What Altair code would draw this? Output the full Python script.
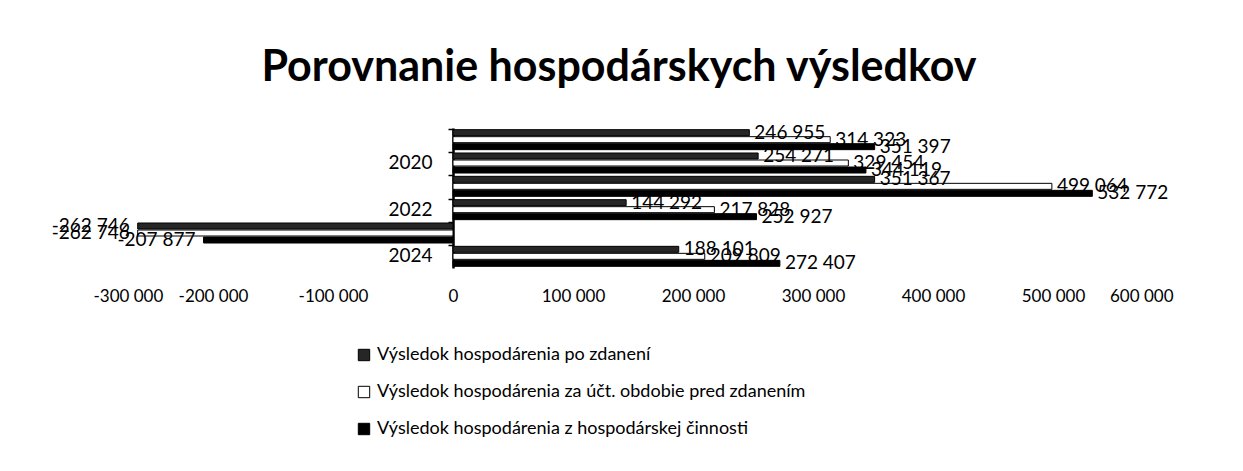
import altair as alt
import pandas as pd

years = ["2019", "2020", "2021", "2022", "2023", "2024"]
series = [
    "Výsledok hospodárenia po zdanení",
    "Výsledok hospodárenia za účt. obdobie pred zdanením",
    "Výsledok hospodárenia z hospodárskej činnosti",
]
po_zdaneni = [246955, 254271, 351367, 144292, -262746, 188101]
pred_zdanenim = [314323, 329454, 499064, 217828, -262746, 209809]
z_cinnosti = [351397, 344119, 532772, 252927, -207877, 272407]
x_ticks = [-300000, -200000, -100000, 0, 100000, 200000, 300000, 400000, 500000, 600000]

rows = []
for name, vals in zip(series, [po_zdaneni, pred_zdanenim, z_cinnosti]):
    for y, v in zip(years, vals):
        rows.append({"rok": y, "ukazovatel": name, "hodnota": v})
df = pd.DataFrame(rows)

XMIN, XMAX = -300000, 600000
PLOT_W, PLOT_H = 1080, 140
FONT = "Lato"

xscale = alt.Scale(domain=[XMIN, XMAX], nice=False, zero=False)
yscale = alt.Scale(domain=years, paddingInner=0.1, paddingOuter=0.05)
off_sort = series

base = alt.Chart(df)

bars = base.mark_bar(stroke="black", strokeWidth=1, size=6).encode(
    x=alt.X("hodnota:Q", scale=xscale,
            axis=alt.Axis(values=x_ticks, format=",d", domain=False, ticks=False, grid=False,
                          title=None, labelFontSize=17, labelFont=FONT, labelColor="black",
                          labelPadding=20)),
    y=alt.Y("rok:N", scale=yscale, sort=years,
            axis=alt.Axis(title=None, offset=-PLOT_W * (0 - XMIN) / (XMAX - XMIN),
                          labelExpr="toNumber(datum.value) % 2 == 0 ? datum.label : ''",
                          bandPosition=0, tickSize=5, tickColor="black", tickWidth=1.5,
                          domainColor="black", domainWidth=2.5, labelFontSize=19,
                          labelFont=FONT, labelColor="black", labelPadding=16, grid=False)),
    yOffset=alt.YOffset("ukazovatel:N", sort=off_sort, scale=alt.Scale(paddingInner=0.0)),
    color=alt.Color("ukazovatel:N", sort=off_sort,
                    scale=alt.Scale(domain=series, range=["#262626", "#ffffff", "#000000"]),
                    legend=alt.Legend(title=None, orient="none", legendX=262, legendY=218,
                                      direction="vertical", symbolType="square", symbolSize=130,
                                      symbolStrokeColor="black", symbolStrokeWidth=1,
                                      labelFontSize=18, labelFont=FONT, labelColor="black",
                                      labelLimit=0, rowPadding=19, labelOffset=4)),
)

pos_labels = base.transform_filter("datum.hodnota >= 0").mark_text(
    align="left", baseline="middle", dx=5, fontSize=19, font=FONT, color="black"
).encode(
    x=alt.X("hodnota:Q", scale=xscale),
    y=alt.Y("rok:N", scale=yscale, sort=years),
    yOffset=alt.YOffset("ukazovatel:N", sort=off_sort),
    text=alt.Text("hodnota:Q", format=",d"),
)

neg_labels = base.transform_filter("datum.hodnota < 0").mark_text(
    align="right", baseline="middle", dx=-8, fontSize=19, font=FONT, color="black"
).encode(
    x=alt.X("hodnota:Q", scale=xscale),
    y=alt.Y("rok:N", scale=yscale, sort=years),
    yOffset=alt.YOffset("ukazovatel:N", sort=off_sort),
    text=alt.Text("hodnota:Q", format=",d"),
)

chart = (bars + pos_labels + neg_labels).properties(
    width=PLOT_W,
    height=PLOT_H,
    title=alt.Title("Porovnanie hospodárskych výsledkov", fontSize=43, font=FONT,
                    fontWeight="bold", color="black", anchor="middle", offset=34, dx=-14),
    autosize=alt.AutoSizeParams(type="none"),
    padding={"left": 85, "top": 120, "right": 62, "bottom": 195},
).configure(
    locale={"number": {"decimal": ",", "thousands": " ", "grouping": [3],
                       "currency": ["", " €"], "minus": "-"}},
    background="white",
    view={"stroke": None},
)

chart.save("out.html", embed_options={"renderer": "svg", "actions": False})
